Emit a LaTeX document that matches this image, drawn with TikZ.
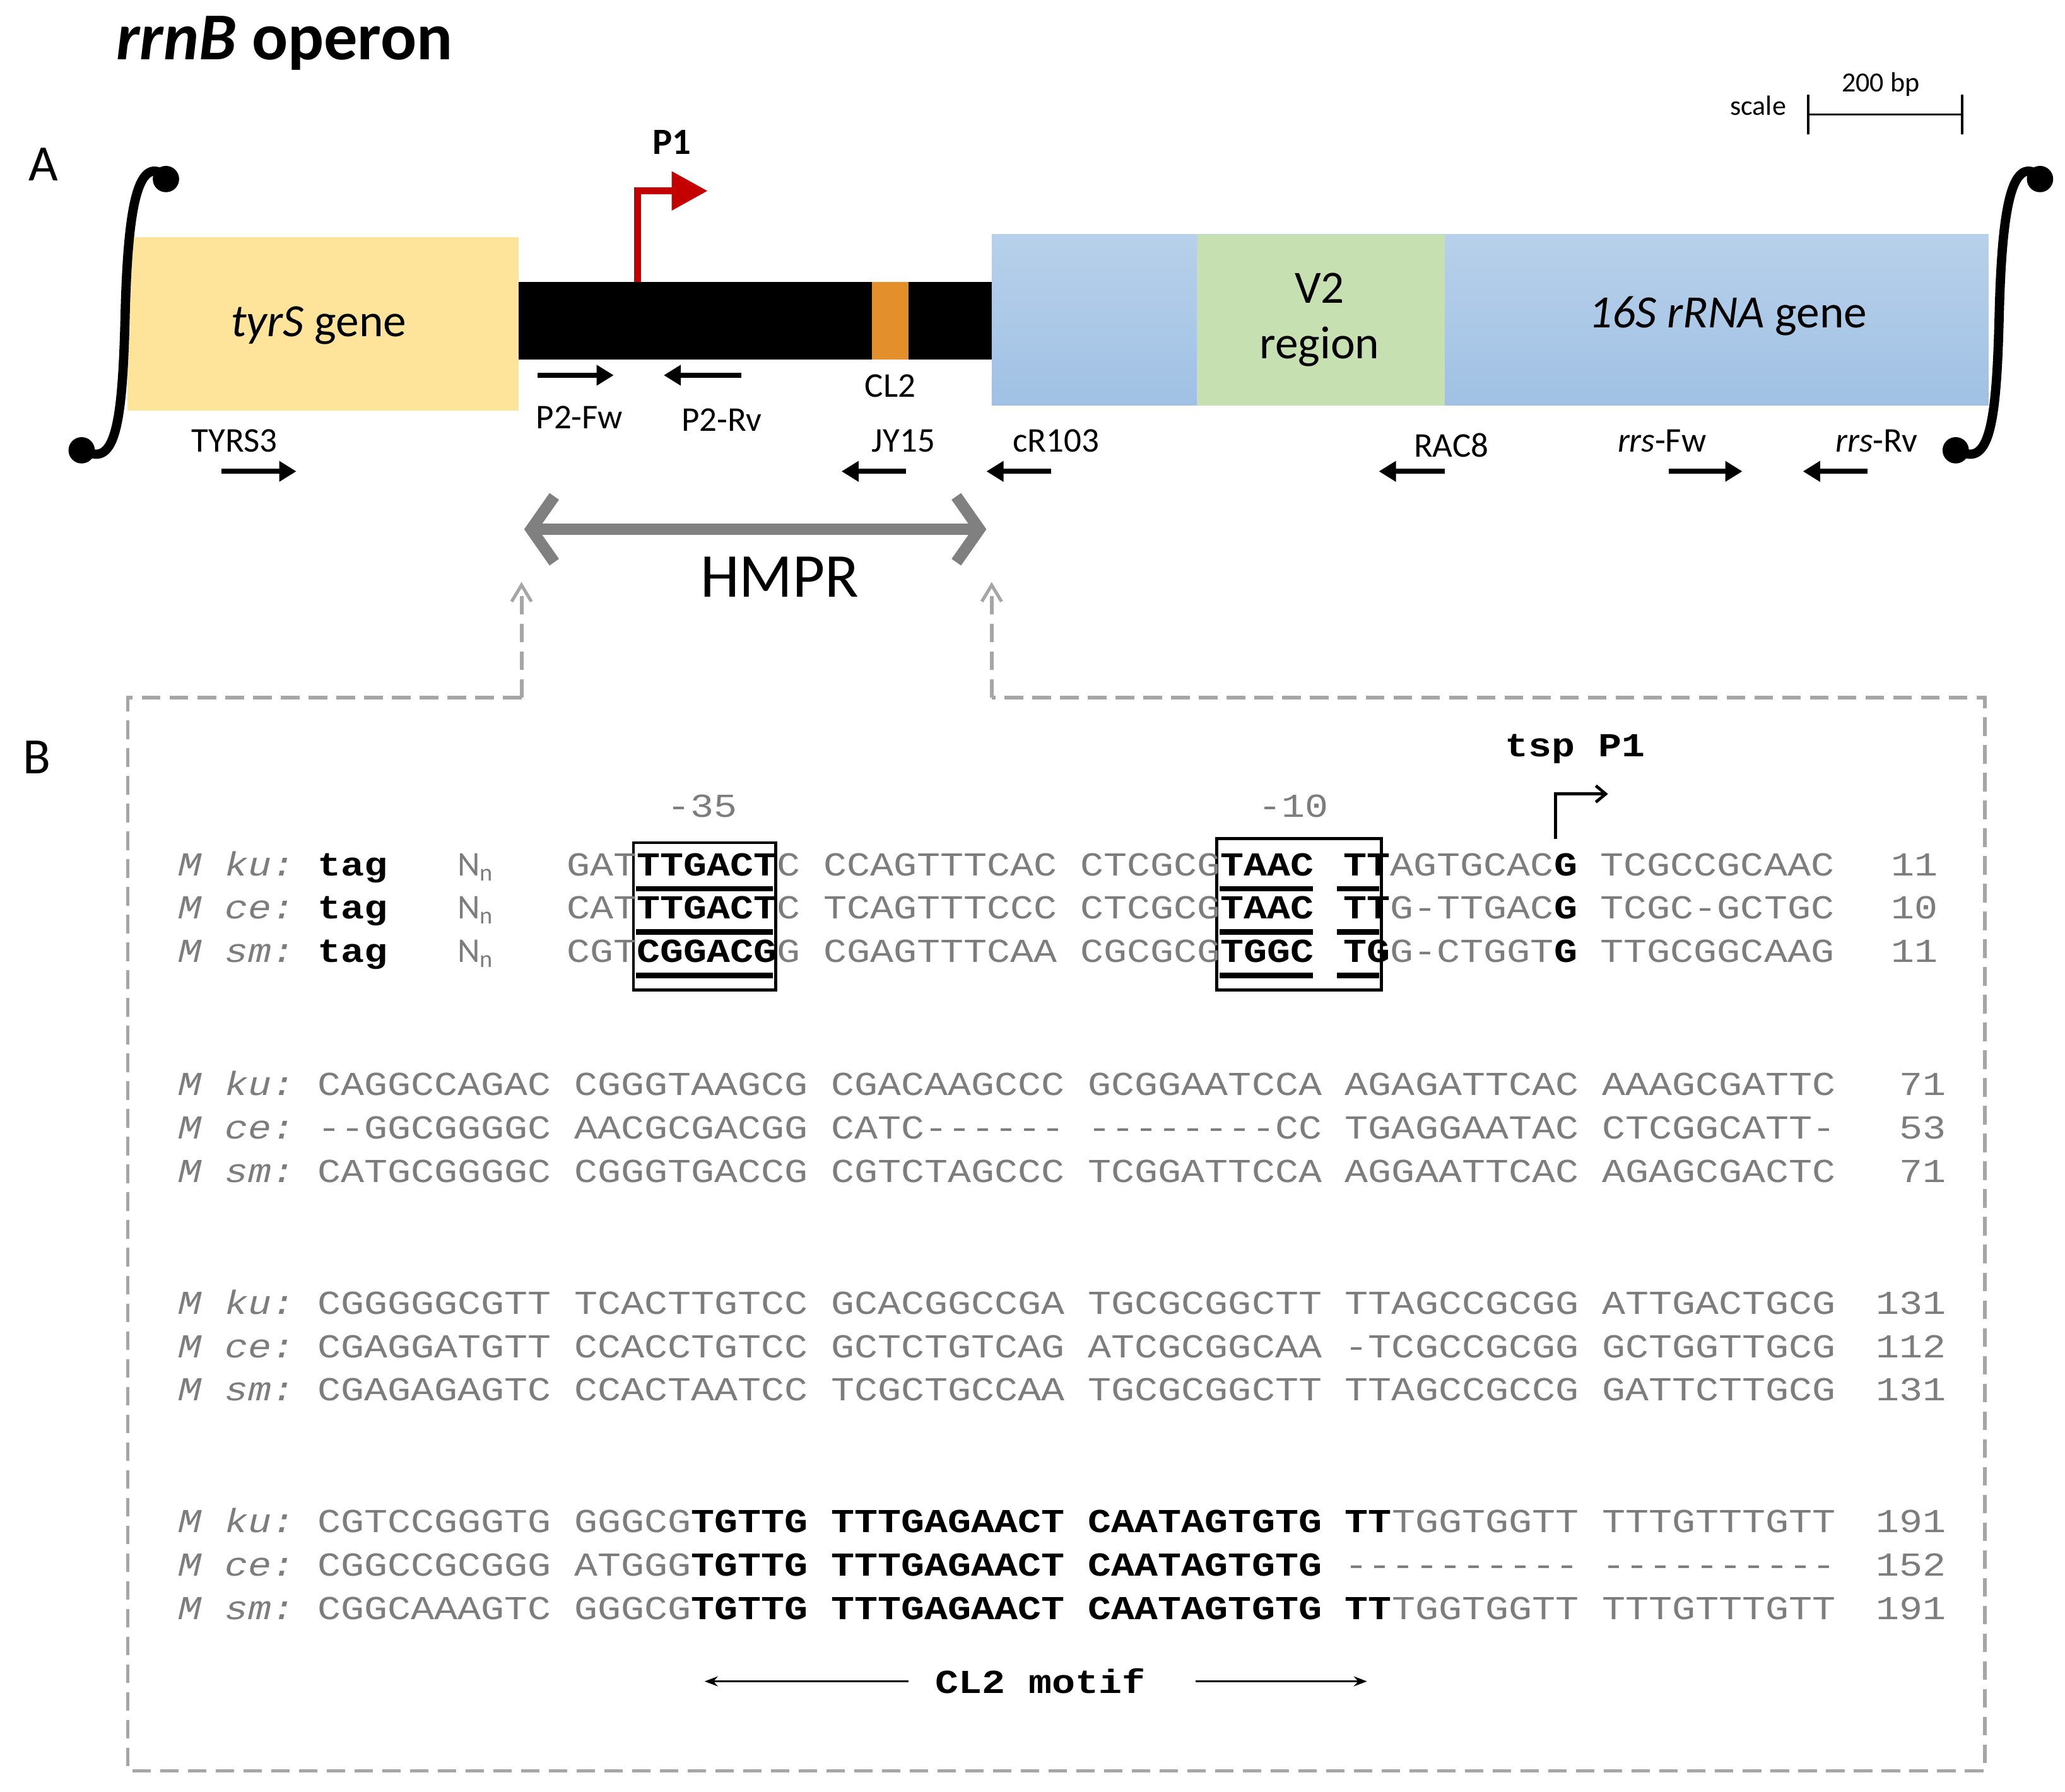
\documentclass[tikz,border=0pt]{standalone}
\usepackage{fontspec}
\setmainfont{Carlito}
\newfontfamily\seqf[FakeStretch=1.16]{Liberation Mono}
\usetikzlibrary{arrows.meta}
\definecolor{tyr}{RGB}{254,228,154}
\definecolor{blu}{RGB}{160,193,228}
\definecolor{grn}{RGB}{198,224,178}
\definecolor{org}{RGB}{226,143,44}
\definecolor{pred}{RGB}{196,0,0}
\definecolor{sg}{RGB}{125,125,125}
\newcommand\B[1]{\textbf{\color{black}#1}}
\tikzset{
 lab/.style={font=\fontsize{15}{17}\selectfont, inner sep=0},
 prim/.style={line width=2.2pt,-{Triangle[length=2.6mm,width=3mm]}},
 sq/.style={font=\seqf\fontsize{14.5}{16}\selectfont, text=sg, anchor=base west, inner sep=0},
 num/.style={font=\seqf\fontsize{14.5}{16}\selectfont, text=sg, anchor=base east, inner sep=0},
 gdash/.style={draw=gray!70, line width=1.6pt, dash pattern=on 8pt off 4pt},
 boxl/.style={line width=1.3pt},
 ul/.style={line width=2.4pt}
}
\newcommand\sqrow[8]{%
 \node[sq] at (135,#1+7) {\textit{#2}};
 \node[sq] at (241,#1+7) {#3};
 \node[sq] at (436,#1+7) {#4};
 \node[sq] at (631,#1+7) {#5};
 \node[sq] at (826,#1+7) {#6};
 \node[sq] at (1021,#1+7) {#7};
 \node[sq] at (1216,#1+7) {#8};}
\begin{document}
\begin{tikzpicture}[x=0.02cm,y=-0.02cm]
\useasboundingbox (0,0) rectangle (1568,1361);
% title
\node[font=\fontsize{29}{32}\selectfont\bfseries, anchor=west, inner sep=0] (title) at (88,33) {\textit{rrnB} operon};
\node[font=\fontsize{22}{24}\selectfont, inner sep=0] (A) at (33,125) {A};
\node[font=\fontsize{22}{24}\selectfont, inner sep=0] (Bl) at (28,575) {B};
% scale
\node[font=\fontsize{12}{14}\selectfont, inner sep=0] (scl) at (1335,80) {scale};
\node[font=\fontsize{12}{14}\selectfont, inner sep=0] (bp) at (1428,64) {200 bp};
\draw[line width=1pt] (1373,72) -- (1373,102) (1373,87) -- (1490,87) (1490,72) -- (1490,102);
% genes
\fill[tyr] (97,180) rectangle (394,312);
\node[font=\fontsize{20}{22}\selectfont, inner sep=0] (tyrs) at (242,247) {\textit{tyrS} gene};
\fill[black] (394,214) rectangle (753,273);
\fill[org] (662,214) rectangle (690,273);
\shade[top color=blu!75, bottom color=blu] (753,178) rectangle (1510,308);
\fill[grn] (909,178) rectangle (1097,308);
\node[font=\fontsize{20}{24}\selectfont, align=center, inner sep=0] (v2) at (1002,243) {V2\\region};
\node[font=\fontsize{20}{22}\selectfont, inner sep=0] (rrna) at (1312,240) {\textit{16S rRNA} gene};
% integral ends
\draw[line width=4pt] (125,133) .. controls (104,118) and (97,160) .. (95,240) .. controls (93,320) and (88,356) .. (64,342);
\fill (126,136) circle (10);
\fill (62,342) circle (10);
\draw[line width=4pt] (1548,133) .. controls (1527,118) and (1520,160) .. (1518,240) .. controls (1516,320) and (1511,356) .. (1487,342);
\fill (1549,136) circle (10);
\fill (1485,342) circle (10);
% P1
\draw[pred, line width=3pt] (484,214) -- (484,145) -- (512,145);
\fill[pred] (510,130) -- (537,145) -- (510,160) -- cycle;
\node[font=\fontsize{16}{18}\selectfont\bfseries, inner sep=0] (p1) at (510,108) {P1};
% primers
\node[lab] (cl2) at (676,293) {CL2};
\node[lab] (p2f) at (440,317) {P2-Fw};
\draw[prim] (408,285) -- (466,285);
\node[lab] (p2r) at (548,319) {P2-Rv};
\draw[prim] (563,285) -- (504,285);
\node[lab] (tyr3) at (178,335) {TYRS3};
\draw[prim] (168,358) -- (225,358);
\node[lab] (jy) at (686,335) {JY15};
\draw[prim] (688,358) -- (639,358);
\node[lab] (cr) at (802,335) {cR103};
\draw[prim] (798,358) -- (749,358);
\node[lab] (rac) at (1102,338) {RAC8};
\draw[prim] (1097,358) -- (1047,358);
\node[lab] (rf) at (1262,335) {\textit{rrs}-Fw};
\draw[prim] (1267,358) -- (1323,358);
\node[lab] (rr) at (1425,335) {\textit{rrs}-Rv};
\draw[prim] (1418,358) -- (1369,358);
% HMPR
\draw[gray, line width=5pt, {Straight Barb[length=3.5mm,width=10mm,line width=5pt]}-{Straight Barb[length=3.5mm,width=10mm,line width=5pt]}] (398,402) -- (749,402);
\node[font=\fontsize{27}{30}\selectfont, inner sep=0] (hmpr) at (592,438) {HMPR};
% dashed frame
\draw[gdash, -{Straight Barb[length=2.5mm,width=3mm,line width=1.4pt]}] (396,530) -- (396,442);
\draw[gdash, -{Straight Barb[length=2.5mm,width=3mm,line width=1.4pt]}] (753,530) -- (753,442);
\draw[gdash] (396,530) -- (97,530) -- (97,1345) -- (1507,1345) -- (1507,530) -- (753,530);
% tsp and boxes
\node[font=\seqf\fontsize{14.5}{16}\selectfont\bfseries, inner sep=0] (tsp) at (1196,569) {tsp P1};
\draw[line width=1.3pt, -{Straight Barb[length=1.5mm,width=2.5mm]}] (1181,637) -- (1181,603) -- (1221,603);
\node[font=\seqf\fontsize{14.5}{16}\selectfont, text=sg, inner sep=0] (m35) at (533,612) {-35};
\node[font=\seqf\fontsize{14.5}{16}\selectfont, text=sg, inner sep=0] (m10) at (982,612) {-10};
\draw[boxl] (481,640) rectangle (589,752);
\draw[boxl] (924,637) rectangle (1049,752);
\foreach \yy in {675,708,741}{
 \draw[ul] (483,\yy) -- (587,\yy);
 \draw[ul] (926,\yy) -- (997,\yy);
 \draw[ul] (1015,\yy) -- (1047,\yy);}
% block 1
\foreach \yy/\nm in {658/M ku:,691/M ce:,724/M sm:}{
 \node[sq] at (135,\yy+7) {\textit{\nm}};
 \node[sq] at (241,\yy+7) {\B{tag}};
 \node[sq, font=\fontsize{15}{16}\selectfont\rmfamily] at (347,\yy+7) {N\textsubscript{n}};}
\node[sq] at (430,665) {GAT\B{TTGACT}C};
\node[sq] at (625,665) {CCAGTTTCAC};
\node[sq] at (820,665) {CTCGCG\B{TAAC}};
\node[sq] at (1020,665) {\B{TT}AGTGCAC\B{G}};
\node[sq] at (1215,665) {TCGCCGCAAC};
\node[num] at (1472,665) {11};
\node[sq] at (430,698) {CAT\B{TTGACT}C};
\node[sq] at (625,698) {TCAGTTTCCC};
\node[sq] at (820,698) {CTCGCG\B{TAAC}};
\node[sq] at (1020,698) {\B{TT}G-TTGAC\B{G}};
\node[sq] at (1215,698) {TCGC-GCTGC};
\node[num] at (1472,698) {10};
\node[sq] at (430,731) {CGT\B{CGGACG}G};
\node[sq] at (625,731) {CGAGTTTCAA};
\node[sq] at (820,731) {CGCGCG\B{TGGC}};
\node[sq] at (1020,731) {\B{TG}G-CTGGT\B{G}};
\node[sq] at (1215,731) {TTGCGGCAAG};
\node[num] at (1472,731) {11};
% block 2
\sqrow{825}{M ku:}{CAGGCCAGAC}{CGGGTAAGCG}{CGACAAGCCC}{GCGGAATCCA}{AGAGATTCAC}{AAAGCGATTC}
\node[num] at (1478,832) {71};
\sqrow{858}{M ce:}{--GGCGGGGC}{AACGCGACGG}{CATC------}{--------CC}{TGAGGAATAC}{CTCGGCATT-}
\node[num] at (1478,865) {53};
\sqrow{891}{M sm:}{CATGCGGGGC}{CGGGTGACCG}{CGTCTAGCCC}{TCGGATTCCA}{AGGAATTCAC}{AGAGCGACTC}
\node[num] at (1478,898) {71};
% block 3
\sqrow{991}{M ku:}{CGGGGGCGTT}{TCACTTGTCC}{GCACGGCCGA}{TGCGCGGCTT}{TTAGCCGCGG}{ATTGACTGCG}
\node[num] at (1478,998) {131};
\sqrow{1024}{M ce:}{CGAGGATGTT}{CCACCTGTCC}{GCTCTGTCAG}{ATCGCGGCAA}{-TCGCCGCGG}{GCTGGTTGCG}
\node[num] at (1478,1031) {112};
\sqrow{1057}{M sm:}{CGAGAGAGTC}{CCACTAATCC}{TCGCTGCCAA}{TGCGCGGCTT}{TTAGCCGCCG}{GATTCTTGCG}
\node[num] at (1478,1064) {131};
% block 4
\sqrow{1157}{M ku:}{CGTCCGGGTG}{GGGCG\B{TGTTG}}{\B{TTTGAGAACT}}{\B{CAATAGTGTG}}{\B{TT}TGGTGGTT}{TTTGTTTGTT}
\node[num] at (1478,1164) {191};
\sqrow{1190}{M ce:}{CGGCCGCGGG}{ATGGG\B{TGTTG}}{\B{TTTGAGAACT}}{\B{CAATAGTGTG}}{----------}{----------}
\node[num] at (1478,1197) {152};
\sqrow{1223}{M sm:}{CGGCAAAGTC}{GGGCG\B{TGTTG}}{\B{TTTGAGAACT}}{\B{CAATAGTGTG}}{\B{TT}TGGTGGTT}{TTTGTTTGTT}
\node[num] at (1478,1230) {191};
% CL2 motif
\node[font=\seqf\fontsize{14.5}{16}\selectfont\bfseries, inner sep=0] (cl2m) at (790,1277) {CL2 motif};
\draw[line width=1pt, -{Stealth[length=2mm]}] (690,1277) -- (535,1277);
\draw[line width=1pt, -{Stealth[length=2mm]}] (908,1277) -- (1038,1277);
\end{tikzpicture}
\end{document}
